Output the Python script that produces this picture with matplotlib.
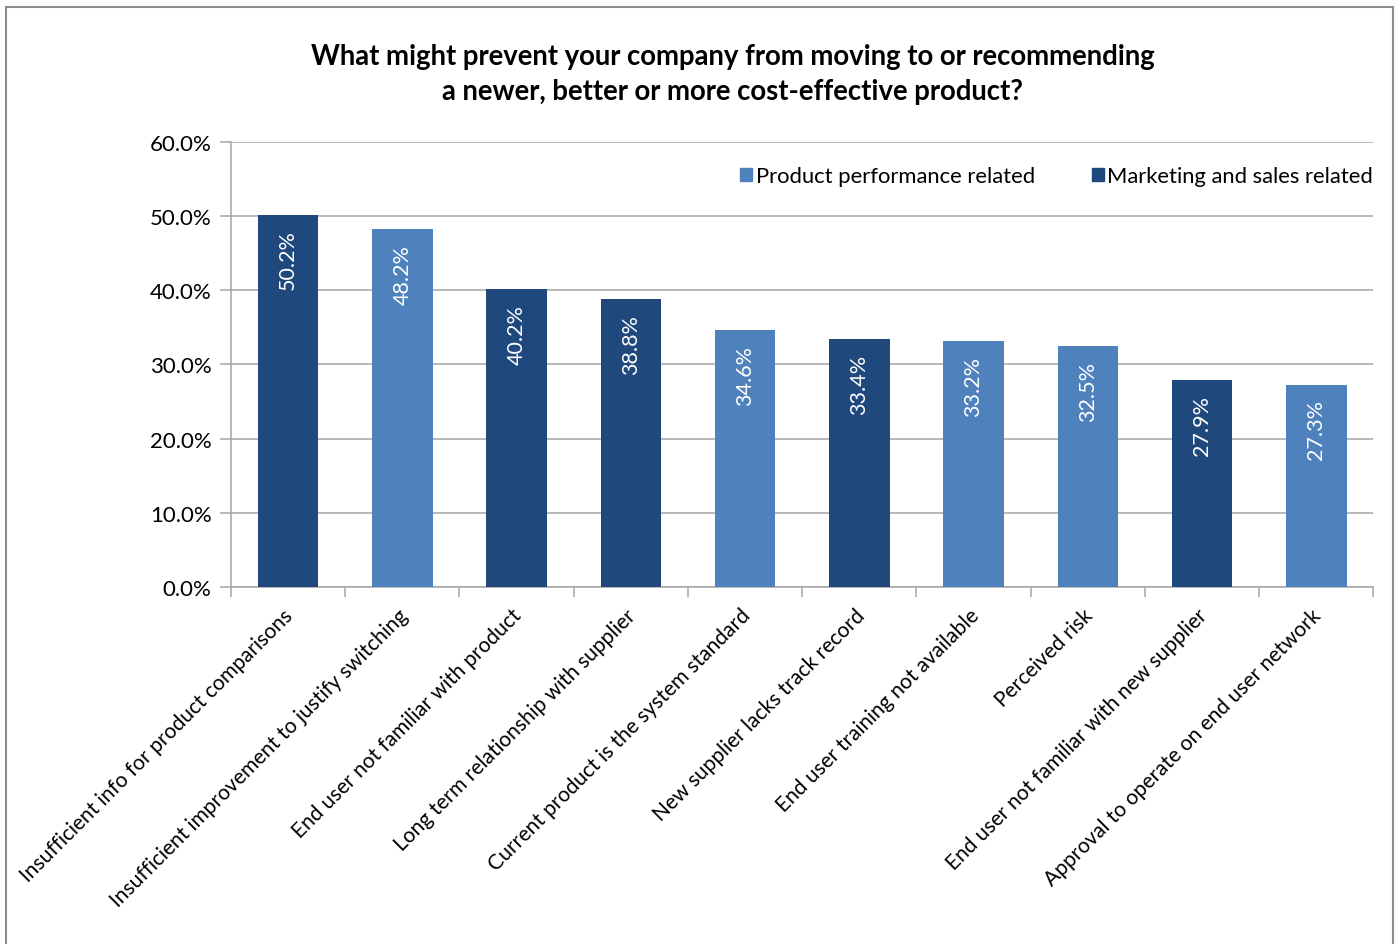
import matplotlib.pyplot as plt
from matplotlib.patches import Rectangle, Patch

plt.rcParams['font.family'] = ['Lato', 'DejaVu Sans']

# 数据
categories = [
    'Insufficient info for product comparisons',
    'Insufficient improvement to justify switching',
    'End user not familiar with product',
    'Long term relationship with supplier',
    'Current product is the system standard',
    'New supplier lacks track record',
    'End user training not available',
    'Perceived risk',
    'End user not familiar with new supplier',
    'Approval to operate on end user network',
]
values = [50.2, 48.2, 40.2, 38.8, 34.6, 33.4, 33.2, 32.5, 27.9, 27.3]
groups = ['M', 'P', 'M', 'M', 'P', 'M', 'P', 'P', 'M', 'P']

dark = '#1F497D'
light = '#4F81BD'
colors = [dark if g == 'M' else light for g in groups]

fig = plt.figure(figsize=(14, 9.45), dpi=100)
ax = fig.add_axes([0.165, 0.3778, 0.816, 0.4709])

# 外框
fig.patches.append(Rectangle((0.0045, -0.01), 0.9905, 1.0 - 0.0085 + 0.01, transform=fig.transFigure,
                             fill=False, edgecolor='#8C8C8C', linewidth=1.5))

x = range(len(categories))
bars = ax.bar(x, values, width=0.53, color=colors, zorder=3)

for xi, v in zip(x, values):
    ax.text(xi, v - 2.0, f'{v:.1f}%', rotation=90, ha='center', va='top',
            color='white', fontsize=15.5, zorder=4)

ax.set_xlim(-0.5, len(categories) - 0.5)
ax.set_ylim(0, 60)
ax.set_yticks(range(0, 61, 10))
ax.set_yticklabels([f'{t:.1f}%' for t in range(0, 61, 10)], fontsize=16)
ax.yaxis.grid(True, color='#A6A6A6', linewidth=1.1, zorder=0)

ax.set_xticks([i - 0.5 for i in range(len(categories) + 1)], minor=False)
ax.set_xticklabels([])
ax.tick_params(axis='x', length=7, color='#A6A6A6', width=1.1)
ax.tick_params(axis='y', length=8, color='#A6A6A6', width=1.1, pad=6)

for i, label in enumerate(categories):
    ax.annotate(label, xy=(i, 0), xytext=(1.5, -18), textcoords='offset points',
                rotation=45, ha='right', va='center', rotation_mode='anchor',
                fontsize=15.1, annotation_clip=False)

for s in ['top', 'right']:
    ax.spines[s].set_visible(False)
ax.spines['left'].set_color('#A6A6A6')
ax.spines['bottom'].set_color('#A6A6A6')
ax.spines['left'].set_linewidth(1.1)
ax.spines['bottom'].set_linewidth(1.1)

handles = [Patch(color=light, label='Product performance related'),
           Patch(color=dark, label='Marketing and sales related')]
ax.legend(handles=handles, loc='upper right', bbox_to_anchor=(1.017, 0.99), ncol=2,
          frameon=False, fontsize=15.8, handlelength=0.55, handleheight=0.55,
          handletextpad=0.15, columnspacing=2.6)

fig.text(0.5235, 0.921, 'What might prevent your company from moving to or recommending\n'
         'a newer, better or more cost-effective product?',
         ha='center', va='center', fontsize=19.8, fontweight='bold', linespacing=1.4)

plt.savefig('out.png', dpi=100)
